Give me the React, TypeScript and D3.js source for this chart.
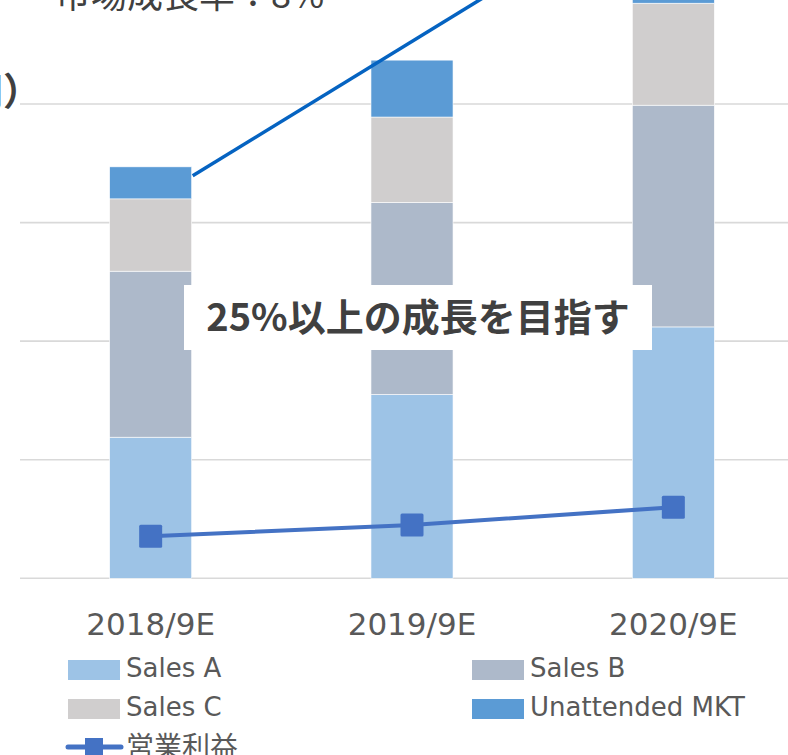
import React from "react";
import * as d3 from "d3";

// 年度
const categories = ["2018/9E", "2019/9E", "2020/9E"];
// 売上内訳（縦軸の目盛りは非表示、グリッド線のみ）
const salesA = [119, 155, 212];
const salesB = [140, 162, 187];
const salesC = [61, 72, 86];
const unattended = [27, 48, 50];
// 営業利益
const profit = [35.5, 45, 60];
const gridTicks = [0, 100, 200, 300, 400];

const seriesNames = ["Sales A", "Sales B", "Sales C", "Unattended MKT"];
const seriesColors = ["#9DC3E6", "#ADB9CA", "#D0CECE", "#5B9BD5"];
const lineColor = "#4472C4";
const arrowColor = "#0563C1";

const W = 788;
const H = 755;
const latin = "'DejaVu Sans', 'Noto Sans CJK JP', sans-serif";
const cjk = "'Noto Sans CJK JP', 'DejaVu Sans', sans-serif";

export default function App() {
    const x = d3.scaleBand().domain(categories).range([20, 804]).paddingInner(0.686).paddingOuter(0.343);
    const y = d3.scaleLinear().domain([0, 400]).range([578.3, 104]);

    const rows = categories.map((c, i) => ({
        cat: c,
        "Sales A": salesA[i],
        "Sales B": salesB[i],
        "Sales C": salesC[i],
        "Unattended MKT": unattended[i],
    }));
    const stacked = d3.stack<any>().keys(seriesNames)(rows);

    const bw = x.bandwidth();
    const cx = (c: string) => (x(c) as number) + bw / 2;

    const profitLine = d3.line<number>()
        .x((_, i) => cx(categories[i]))
        .y(d => y(d));

    // 市場成長率の矢印線：2018年バーの右上から上へ
    const total0 = salesA[0] + salesB[0] + salesC[0] + unattended[0];
    const sx = (x(categories[0]) as number) + bw + 1;
    const sy = y(total0) + 9;
    const slope = 0.613;
    const ey = -10;
    const ex = sx + (sy - ey) / slope;

    const boxCx = cx(categories[1]) + 6;
    const boxCy = 317.5;

    const legend = [
        { name: "Sales A", color: seriesColors[0], lx: 68, ly: 660 },
        { name: "Sales B", color: seriesColors[1], lx: 472, ly: 660 },
        { name: "Sales C", color: seriesColors[2], lx: 68, ly: 699 },
        { name: "Unattended MKT", color: seriesColors[3], lx: 472, ly: 699 },
    ];

    return (
        <svg width={W} height={H} style={{ position: "absolute", left: 0, top: 0, background: "#fff" }}>
            {/* グリッド線 */}
            {gridTicks.map(t => (
                <line key={t} x1={20} x2={W} y1={y(t)} y2={y(t)} stroke="#D9D9D9" strokeWidth={1.6} />
            ))}

            {/* 積み上げ棒 */}
            {stacked.map((s, si) => (
                <g key={s.key} fill={seriesColors[si]}>
                    {s.map((d, i) => (
                        <rect key={i} x={x(categories[i])} y={y(d[1])} width={bw}
                            height={y(d[0]) - y(d[1])} stroke="#fff" strokeWidth={0.6} />
                    ))}
                </g>
            ))}

            {/* 営業利益 */}
            <path d={profitLine(profit) as string} fill="none" stroke={lineColor} strokeWidth={4} />
            {profit.map((p, i) => (
                <rect key={i} x={cx(categories[i]) - 11.5} y={y(p) - 11.5} width={23} height={23}
                    rx={1.5} fill={lineColor} />
            ))}

            {/* 市場成長率 注記 */}
            <line x1={sx} y1={sy} x2={ex} y2={ey} stroke={arrowColor} strokeWidth={3.5} />
            <text x={55} y={8} fontFamily={cjk} fontSize={36} fill="#404040">市場成長率：8%</text>
            <text x={41} y={105} fontFamily={cjk} fontSize={38} fontWeight="bold" fill="#404040"
                textAnchor="end">（百万円）</text>

            {/* 成長目標ボックス */}
            <rect x={boxCx - 234} y={boxCy - 32.5} width={468} height={65} fill="#fff" />
            <text x={boxCx} y={boxCy} dy="0.36em" textAnchor="middle" fontFamily={cjk} fontWeight="bold"
                fontSize={38} fill="#404040">25%以上の成長を目指す</text>

            {/* x軸ラベル */}
            {categories.map(c => (
                <text key={c} x={cx(c)} y={635} textAnchor="middle" fontFamily={latin} fontSize={31}
                    fill="#595959">{c}</text>
            ))}

            {/* 凡例 */}
            {legend.map(l => (
                <g key={l.name}>
                    <rect x={l.lx} y={l.ly} width={52} height={20} fill={l.color} />
                    <text x={l.lx + 58} y={l.ly + 16.5} fontFamily={latin} fontSize={26} fill="#595959">{l.name}</text>
                </g>
            ))}
            <line x1={68} x2={121} y1={747} y2={747} stroke={lineColor} strokeWidth={5} strokeLinecap="round" />
            <rect x={85} y={738} width={18} height={18} fill={lineColor} />
            <text x={126} y={757} fontFamily={cjk} fontSize={28} fill="#595959">営業利益</text>
        </svg>
    );
}
